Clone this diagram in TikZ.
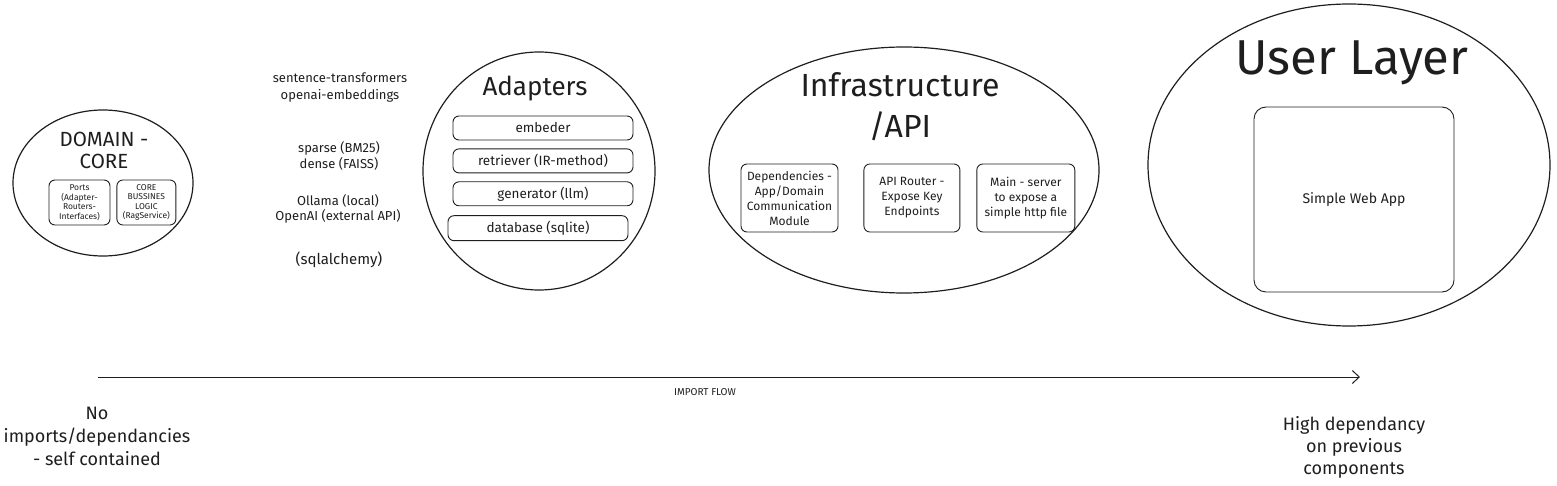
\documentclass[tikz,border=0pt]{standalone}
\usepackage{fontspec}
\setmainfont{Fira Sans}
\usetikzlibrary{arrows,arrows.meta,shapes.geometric,positioning}
\definecolor{ink}{HTML}{1E1E1E}

\begin{document}
\begin{tikzpicture}[
        x=1pt, y=-1pt,
        node distance=8pt,
        layer/.style={draw=ink, ellipse, line width=1.2pt, inner sep=0pt},
        title/.style={text=ink, align=center, inner sep=0pt},
        box/.style={draw=ink, rounded corners=6pt, align=center, inner sep=1pt, line width=0.9pt, text=ink},
        note/.style={text=ink, align=center, inner sep=0pt},
        arrow/.style={-{Straight Barb[length=7pt,width=13pt]}, line width=1pt, draw=ink}
    ]
        \useasboundingbox (0,0) rectangle (1557,486);

        % domain / core
        \node[layer, minimum width=180, minimum height=146] (domain) at (103,183) {};
        \node[title, font=\fontsize{20.5}{22}\selectfont] (domaintitle) at (104,150) {DOMAIN -\\CORE};
        \node[box, minimum width=61, minimum height=45, font=\fontsize{8.5}{9.5}\selectfont] (ports) at (79.5,202.5) {Ports\\(Adapter-\\Routers-\\Interfaces)};
        \node[box, minimum width=59, minimum height=45, font=\fontsize{8.5}{9.5}\selectfont, right=6pt of ports] (corelogic) {CORE\\BUSSINES\\LOGIC\\(RagService)};

        % notes next to the adapters
        \node[note, font=\fontsize{13}{17}\selectfont] (embednote) at (340,88) {sentence-transformers\\openai-embeddings};
        \node[note, font=\fontsize{13}{16}\selectfont] (retrievenote) at (339,156) {sparse (BM25)\\dense (FAISS)};
        \node[note, font=\fontsize{13}{15.5}\selectfont] (generatenote) at (338,209) {Ollama (local)\\OpenAI (external API)};
        \node[note, font=\fontsize{15}{16}\selectfont] (dbnote) at (339,260) {(sqlalchemy)};

        % adapters
        \node[layer, minimum width=232, minimum height=238] (adapters) at (539,171) {};
        \node[title, font=\fontsize{26}{30}\selectfont] (adapterstitle) at (535,89) {Adapters};
        \node[box, minimum width=180, minimum height=24, font=\fontsize{13.5}{14}\selectfont] (embeder) at (543,128) {embeder};
        \node[box, minimum width=180, minimum height=24, font=\fontsize{13.5}{14}\selectfont, below=of embeder] (retriever) {retriever (IR-method)};
        \node[box, minimum width=180, minimum height=24, font=\fontsize{13.5}{14}\selectfont, below=of retriever] (generator) {generator (llm)};
        \node[box, minimum width=180, minimum height=25, font=\fontsize{13.5}{14}\selectfont, below=9pt of generator, xshift=-5pt] (database) {database (sqlite)};

        % infrastructure / api
        \node[layer, minimum width=390, minimum height=246] (infra) at (904,170) {};
        \node[title, font=\fontsize{32}{41}\selectfont] (infratitle) at (900,107) {Infrastructure\\/API};
        \node[box, minimum width=97, minimum height=68, font=\fontsize{12}{15}\selectfont] (deps) at (789.5,198) {Dependencies -\\App/Domain\\Communication\\Module};
        \node[box, minimum width=96, minimum height=68, font=\fontsize{12}{15}\selectfont, right=25pt of deps] (router) {API Router -\\Expose Key\\Endpoints};
        \node[box, minimum width=98, minimum height=68, font=\fontsize{12}{15}\selectfont, right=16pt of router] (mainsrv) {Main - server\\to expose a\\simple http file};

        % user layer
        \node[layer, minimum width=402, minimum height=322] (user) at (1349,165) {};
        \node[title, font=\fontsize{49}{54}\selectfont] (usertitle) at (1352,63) {User Layer};
        \node[box, rounded corners=12pt, minimum width=200, minimum height=185, font=\fontsize{14}{16}\selectfont] (webapp) at (1354,199.5) {Simple Web App};

        % import flow
        \coordinate (flowstart) at (98,377);
        \coordinate (flowend) at (1360,377);
        \draw[arrow] (flowstart) -- (flowend);
        \node[note, font=\fontsize{10}{12}\selectfont] (flowlabel) at (705,392) {IMPORT FLOW};

        \node[note, font=\fontsize{18}{23}\selectfont] (leftnote) at (97,436) {No\\imports/dependancies\\- self contained};
        \node[note, font=\fontsize{18}{22}\selectfont] (rightnote) at (1354,447) {High dependancy\\on previous\\components};
    \end{tikzpicture}
\end{document}
